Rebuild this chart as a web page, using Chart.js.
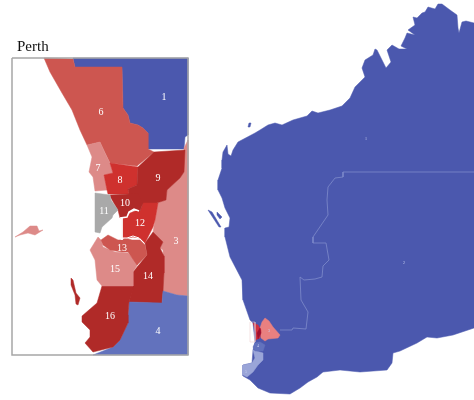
<!DOCTYPE html>
<html>
<head>
<meta charset="utf-8">
<style>
  html, body { margin: 0; padding: 0; background: #fff; }
  canvas { display: block; }
</style>
<script src="https://cdn.jsdelivr.net/npm/chart.js@4/dist/chart.umd.min.js"></script>
</head>
<body>
<canvas id="map" width="474" height="400"></canvas>
<script>
// outlines, [x, y] in picture units
// state map
const stateLand = [[474,23],[466,21],[462,22],[459,33],[458,28],[457,15],[450,10],[442,4],[438,4],[435,9],[428,7],[425,12],[422,13],[417,18],[413,17],[415,25],[408,30],[415,35],[407,33],[405,38],[403,42],[401,46],[407,49],[399,49],[392,45],[387,50],[391,62],[386,68],[377,50],[375,49],[373,55],[365,60],[362,68],[365,77],[355,87],[350,98],[342,106],[330,110],[318,113],[312,111],[307,116],[293,120],[282,125],[275,123],[268,125],[260,130],[255,133],[238,142],[233,150],[231,156],[228,154],[227,145],[223,152],[222,160],[222,168],[218,180],[218,190],[222,198],[225,208],[230,218],[229,227],[225,228],[225,237],[230,257],[242,280],[243,300],[250,320],[253,323],[255,342],[253,350],[252,363],[243,365],[243,376],[250,380],[258,388],[270,393],[290,394],[300,388],[308,382],[317,377],[323,372],[340,370],[360,372],[387,370],[392,363],[393,353],[400,351],[417,343],[427,337],[437,338],[453,335],[474,328]];
const stateIsle = [[217,212],[222,217],[220,219],[217,215]];
const stateSliver = [[208,210],[212,212],[221,227],[219,227]];
const stateIsle2 = [[249,123],[251,123],[250,127],[248,127]];
const stateSouth = [[243,365],[243,375],[247,377],[253,372],[258,365],[263,360],[263,353],[253,350],[255,358],[252,363]];
const stateFour = [[253,347],[255,351],[263,351],[265,345],[260,342],[255,343]];
const stateThree = [[262,322],[265,318],[269,321],[273,327],[280,335],[278,338],[268,339],[265,341],[261,338],[260,328]];
const stateMetro = [[253,323],[258,325],[261,330],[260,338],[255,340],[256,332]];
const stateCore = [[257,333],[260,328],[261,333],[258,339]];
const stateBoundary = [[474,172],[343,172],[343,177],[335,178],[328,187],[327,200],[328,215],[313,237],[313,243],[326,243],[329,260],[323,266],[322,277],[315,279],[304,280],[300,277],[301,300],[308,312],[306,329],[293,328],[292,330],[280,330]];
const stateInsetBox = [[250,322],[255,322],[255,342],[250,342],[250,322]];

// Perth inset
const insetFrame = [[12,58],[188,58],[188,355],[12,355],[12,58]];
const seat1 = [[73,58],[188,58],[188,135],[185,137],[184,149],[148,149],[148,133],[143,128],[138,125],[130,123],[128,115],[123,108],[122,67],[75,67]];
const seat6 = [[44,58],[73,59],[75,67],[122,67],[123,108],[128,115],[130,123],[138,125],[143,128],[148,133],[148,149],[154,152],[137,166],[110,163],[100,142],[87,145],[80,130],[72,110],[62,93],[50,72],[47,65]];
const seat7 = [[87,145],[100,142],[105,153],[110,163],[113,173],[104,175],[107,190],[95,191],[93,177],[89,172],[92,157]];
const seat8 = [[110,163],[138,167],[137,185],[128,189],[129,194],[108,194],[107,190],[104,175],[113,173]];
const seat9 = [[138,167],[154,152],[185,150],[184,172],[180,178],[167,190],[166,200],[157,203],[143,205],[138,195],[129,194],[128,189],[137,185]];
const seat3 = [[184,148],[188,140],[188,296],[177,295],[163,291],[164,273],[163,250],[160,248],[163,242],[153,232],[155,220],[158,203],[166,200],[167,190],[180,178],[184,172]];
const seat14 = [[153,232],[163,242],[160,248],[164,256],[164,273],[163,292],[162,303],[153,303],[129,302],[133,287],[133,272],[147,255],[145,243]];
const seat4 = [[129,302],[162,303],[163,291],[177,295],[188,296],[188,355],[93,355],[113,347],[120,340],[128,323],[128,315]];
const seat16 = [[102,286],[133,286],[133,290],[129,302],[128,315],[128,323],[120,340],[113,347],[93,352],[85,343],[90,337],[90,330],[82,322],[82,316],[97,303]];
const seat15 = [[90,250],[98,237],[101,240],[103,247],[115,252],[128,253],[138,264],[133,272],[133,286],[102,286],[97,280],[95,260]];
const seat13 = [[101,240],[108,235],[118,240],[122,240],[125,238],[132,240],[140,240],[145,245],[147,255],[137,265],[128,252],[122,252],[110,250],[103,245]];
const seat12 = [[122,218],[127,217],[130,213],[135,211],[140,211],[143,203],[158,203],[155,220],[153,227],[145,243],[140,238],[133,237],[127,238],[122,238]];
const seat10 = [[111,198],[110,195],[129,194],[138,193],[143,203],[140,211],[134,209],[129,212],[127,217],[120,218],[118,210],[115,205]];
const seat11 = [[95,193],[110,195],[111,200],[118,210],[113,215],[112,218],[102,227],[100,233],[95,232]];
const rottnest = [[15,237],[23,232],[30,226],[37,226],[39,231],[43,230],[35,235],[28,233],[20,235]];
const gardenIsland = [[71,278],[73,280],[76,293],[80,298],[78,305],[76,304],[75,295],[71,285]];
const riverUpper = [[120,218],[127,217],[129,212],[134,209],[139,211]];
const riverLower = [[122,218],[122,240]];
const riverSwan = [[122,238],[127,238],[133,236],[139,238]];

const seatColors = { blue: '#4b58ae', mid: '#6272bd', pale: '#9aa5d8', lightRed: '#dd8a88', red: '#cd5650', strong: '#cf312e', dark: '#b02a28', grey: '#a9a9a9', pink: '#e98080' };

// big labels on the inset, small ones on the state
const insetLabels = ['1','6','7','8','9','10','11','12','13','3','15','14','16','4'];
const insetLabelX = [164,101,98,120,158,125,104,140,122,176,115,148,110,158];
const insetLabelY = [97,112,168,180,178,203,211,223,248,241,269,276,316,331];
const stateLabels = ['1','2','3','4','5'];
const stateLabelX = [366,404,269,258,246];
const stateLabelY = [139,263,331,346,372];

const shapes = [
  [stateLand, seatColors.blue],
  [stateIsle, seatColors.blue],
  [stateSliver, seatColors.blue],
  [stateIsle2, seatColors.blue],
  [stateSouth, seatColors.pale],
  [stateFour, seatColors.mid],
  [stateThree, seatColors.pink],
  [stateMetro, '#d2303f'],
  [stateCore, '#a01030'],
  [seat1, seatColors.blue],
  [seat6, seatColors.red],
  [seat3, seatColors.lightRed],
  [seat7, seatColors.lightRed],
  [seat8, seatColors.strong],
  [seat9, seatColors.dark],
  [seat14, seatColors.dark],
  [seat4, seatColors.mid],
  [seat16, seatColors.dark],
  [seat15, seatColors.lightRed],
  [seat13, seatColors.red],
  [seat12, seatColors.strong],
  [seat10, seatColors.dark],
  [seat11, seatColors.grey],
  [rottnest, seatColors.lightRed],
  [gardenIsland, seatColors.dark]
];

const toPoints = pts => pts.map(p => ({ x: p[0], y: p[1] }));

const datasets = shapes.map(([pts, color]) => ({
  data: toPoints(pts.concat([pts[0]])),
  showLine: true,
  fill: 'shape',
  backgroundColor: color,
  borderColor: color,
  borderWidth: 0.5,
  pointRadius: 0,
  tension: 0
}));

const lineSet = (pts, color, width) => ({
  data: toPoints(pts),
  showLine: true,
  fill: false,
  borderColor: color,
  borderWidth: width,
  pointRadius: 0,
  tension: 0
});
datasets.push(lineSet(riverUpper, '#ffffff', 1.5));
datasets.push(lineSet(riverLower, '#ffffff', 1));
datasets.push(lineSet(riverSwan, '#ffffff', 1));
datasets.push(lineSet(stateBoundary, '#7f8bca', 0.8));
datasets.push(lineSet(stateInsetBox, '#e8c4c4', 0.5));
datasets.push(lineSet(insetFrame, '#a6a6a6', 1.5));

// the library paints the last dataset first
datasets.reverse();

const textPlugin = {
  id: 'mapText',
  afterDatasetsDraw(chart) {
    const { ctx, scales: { x, y } } = chart;
    ctx.save();
    ctx.textAlign = 'center';
    ctx.textBaseline = 'middle';
    ctx.fillStyle = '#ffffff';
    ctx.font = '10px "Liberation Serif"';
    insetLabels.forEach((t, i) => {
      ctx.fillText(t, x.getPixelForValue(insetLabelX[i]), y.getPixelForValue(insetLabelY[i]));
    });
    ctx.fillStyle = '#c9d0f0';
    ctx.font = '4px "Liberation Serif"';
    stateLabels.forEach((t, i) => {
      ctx.fillText(t, x.getPixelForValue(stateLabelX[i]), y.getPixelForValue(stateLabelY[i]));
    });
    ctx.fillStyle = '#111111';
    ctx.textAlign = 'left';
    ctx.font = '15px "Liberation Serif"';
    ctx.fillText('Perth', x.getPixelForValue(17), y.getPixelForValue(47));
    ctx.restore();
  }
};

new Chart(document.getElementById('map').getContext('2d'), {
  type: 'scatter',
  data: { datasets },
  options: {
    responsive: false,
    animation: false,
    layout: { padding: 0 },
    plugins: { legend: { display: false }, tooltip: { enabled: false } },
    scales: {
      x: { type: 'linear', min: 0, max: 474, display: false },
      y: { type: 'linear', min: 0, max: 400, reverse: true, display: false }
    }
  },
  plugins: [textPlugin]
});
</script>
</body>
</html>
